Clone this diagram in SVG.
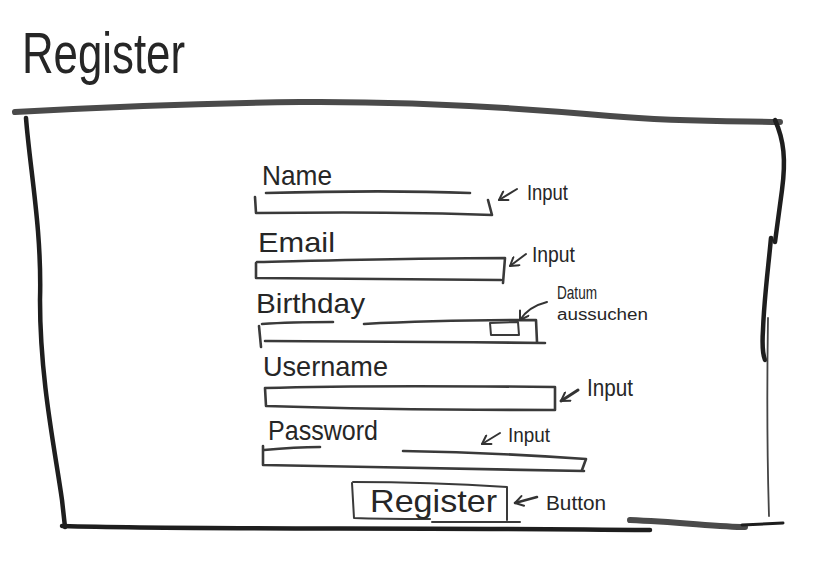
<svg xmlns="http://www.w3.org/2000/svg" width="817" height="574" viewBox="0 0 817 574">
<style>
.hand{font-family:"Liberation Sans","DejaVu Sans",sans-serif;fill:#262626}
.frame{fill:none;stroke:#4a4a4a;stroke-width:6;stroke-linecap:round;stroke-linejoin:round}
.frameb{fill:none;stroke:#1e1e1e;stroke-width:4.5;stroke-linecap:round;stroke-linejoin:round}
.ln{fill:none;stroke:#3a3a3a;stroke-width:2.6;stroke-linecap:round;stroke-linejoin:round}
.thin{fill:none;stroke:#444;stroke-width:1.8;stroke-linecap:round}
.arr{fill:none;stroke:#333;stroke-width:2;stroke-linecap:round;stroke-linejoin:round}
</style>
<defs>
<marker id="ah" viewBox="0 0 12 12" refX="10" refY="6" markerWidth="12" markerHeight="12" markerUnits="userSpaceOnUse" orient="auto">
<path d="M2,1 L10,6 L2,11" fill="none" stroke="#333" stroke-width="2" stroke-linecap="round" stroke-linejoin="round"/>
</marker>
</defs>
<rect width="817" height="574" fill="#fff"/>
<g id="title"><text class="hand" x="22" y="73" font-size="58" textLength="163" lengthAdjust="spacingAndGlyphs">Register</text></g>
<g id="frame">
<path class="frame" d="M15,112 C120,106 200,103 300,102 C420,101 520,108 610,116 C680,122 740,121 780,122"/>
<path class="frameb" d="M26,118 C30,170 42,230 40,300 C40,380 55,450 62,500 L65,527"/>
<path class="frameb" d="M775,120 C784,140 786,160 782,190 C778,220 776,235 775,242"/>
<path class="frameb" d="M771,238 C768,270 764,300 763,330 C762,345 763,355 765,360"/>
<path class="thin" d="M768,318 C767,380 767,450 769,516"/>
<path class="frameb" d="M62,526 C200,530 400,527 650,530"/>
<path class="frame" d="M630,520 C680,522 720,527 745,527"/>
<path class="frameb" d="M742,525 L783,523" style="stroke-width:3"/>
</g>
<g id="name-field">
<text class="hand" x="262" y="185" font-size="28" textLength="70" lengthAdjust="spacingAndGlyphs">Name</text>
<path class="ln" d="M266,193 C340,191 420,191 470,193"/>
<path class="ln" d="M255,197 L256,213 C340,212 420,212 492,215 L488,200"/>
</g>
<g id="email-field">
<text class="hand" x="258" y="252" font-size="28" textLength="77" lengthAdjust="spacingAndGlyphs">Email</text>
<path class="ln" d="M257,262 C350,260 430,258 505,258 L503,283"/>
<path class="ln" d="M256,263 L256,278 C350,278 430,279 501,280"/>
</g>
<g id="birthday-field">
<text class="hand" x="256" y="313" font-size="28" textLength="109" lengthAdjust="spacingAndGlyphs">Birthday</text>
<path class="ln" d="M262,324 C290,322 315,322 333,322"/>
<path class="ln" d="M364,324 C420,321 480,320 536,320 L537,342"/>
<path class="ln" d="M259,326 L261,347"/>
<path class="ln" d="M265,341 C350,341 450,342 545,343"/>
<path class="ln" d="M490,323 L491,335 L519,335 L518,322 Z" style="stroke-width:2"/>
</g>
<g id="username-field">
<text class="hand" x="263" y="376" font-size="28" textLength="125" lengthAdjust="spacingAndGlyphs">Username</text>
<path class="ln" d="M265,388 C360,385 460,386 555,387 L555,410 C460,410 360,409 266,406 Z"/>
</g>
<g id="password-field">
<text class="hand" x="268" y="440" font-size="27" textLength="110" lengthAdjust="spacingAndGlyphs">Password</text>
<path class="ln" d="M264,450 C285,448 305,447 320,447"/>
<path class="ln" d="M403,451 C470,452 530,455 586,459 L582,470"/>
<path class="ln" d="M263,446 L263,465 C370,467 480,469 584,471"/>
</g>
<g id="register-button">
<path class="ln" d="M353,482 C400,482 460,484 507,487 L507,520" style="stroke-width:2"/>
<path class="ln" d="M352,483 L354,518 C380,519 410,519 430,519" style="stroke-width:2"/>
<path class="ln" d="M432,522 C470,522 500,522 520,522" style="stroke-width:2"/>
<text class="hand" x="370" y="512" font-size="32" textLength="127" lengthAdjust="spacingAndGlyphs">Register</text>
</g>
<g id="annotations">
<text class="hand" x="527" y="200" font-size="22" textLength="41" lengthAdjust="spacingAndGlyphs">Input</text>
<text class="hand" x="532" y="262" font-size="22" textLength="43" lengthAdjust="spacingAndGlyphs">Input</text>
<text class="hand" x="587" y="396" font-size="23" textLength="46" lengthAdjust="spacingAndGlyphs">Input</text>
<text class="hand" x="508" y="442" font-size="21" textLength="42" lengthAdjust="spacingAndGlyphs">Input</text>
<text class="hand" x="557" y="299" font-size="19" textLength="40" lengthAdjust="spacingAndGlyphs">Datum</text>
<text class="hand" x="557" y="320" font-size="16" textLength="91" lengthAdjust="spacingAndGlyphs">aussuchen</text>
<text class="hand" x="546" y="510" font-size="21" textLength="60" lengthAdjust="spacingAndGlyphs">Button</text>
</g>
<g id="connectors">
<path class="arr" d="M517,189 L499,200" marker-end="url(#ah)"/>
<path class="arr" d="M526,254 L510,266" marker-end="url(#ah)"/>
<path class="arr" d="M547,302 C535,305 525,312 520,320" marker-end="url(#ah)"/>
<path class="arr" d="M578,390 L561,401" marker-end="url(#ah)" style="stroke-width:3"/>
<path class="arr" d="M500,433 L482,444" marker-end="url(#ah)"/>
<path class="arr" d="M537,497 L515,503" marker-end="url(#ah)" style="stroke-width:2.6"/>
</g>
</svg>
